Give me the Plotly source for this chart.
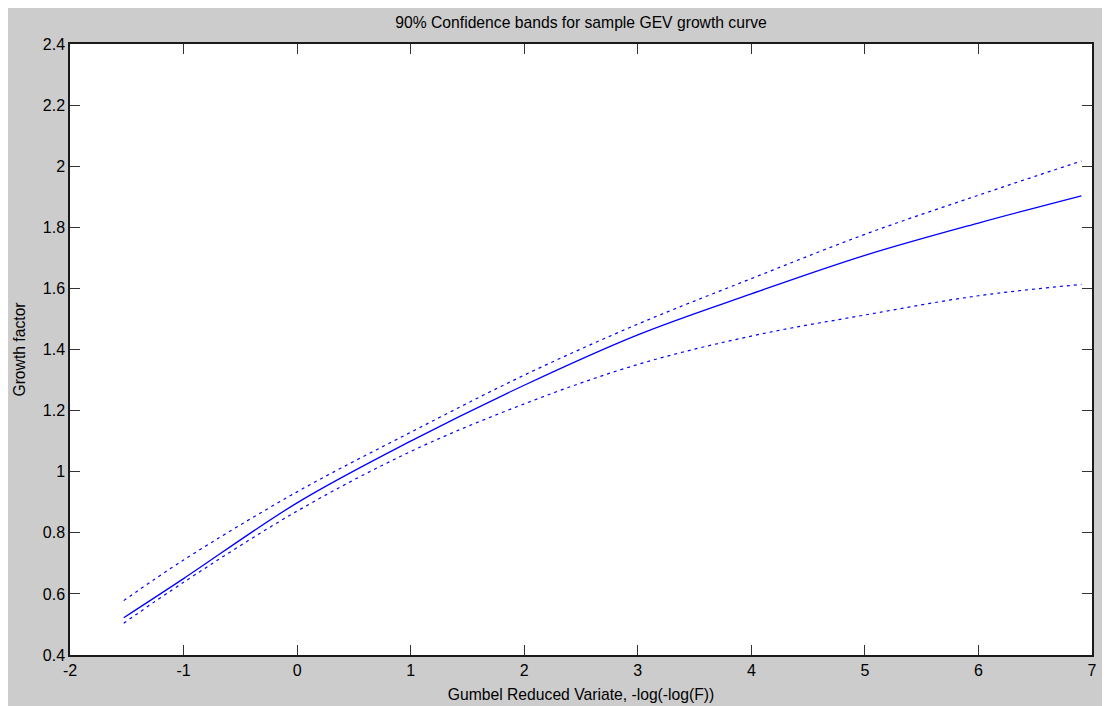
import plotly.graph_objects as go

# Gumbel reduced variate (F = 0.01 ... 0.999)
x_vals = [-1.527, -1.0, 0.0, 1.0, 2.0, 3.0, 4.0, 5.0, 6.0, 6.907]
growth = [0.522, 0.650, 0.898, 1.100, 1.283, 1.448, 1.582, 1.708, 1.814, 1.903]
upper = [0.578, 0.711, 0.934, 1.129, 1.316, 1.483, 1.632, 1.777, 1.905, 2.017]
lower = [0.504, 0.638, 0.871, 1.066, 1.222, 1.351, 1.444, 1.513, 1.576, 1.613]

x_ticks = [-2, -1, 0, 1, 2, 3, 4, 5, 6, 7]
x_ticktext = ["-2", "-1", "0", "1", "2", "3", "4", "5", "6", "7"]
y_ticks = [0.4, 0.6, 0.8, 1.0, 1.2, 1.4, 1.6, 1.8, 2.0, 2.2, 2.4]
y_ticktext = ["0.4", "0.6", "0.8", "1", "1.2", "1.4", "1.6", "1.8", "2", "2.2", "2.4"]

title_text = "90% Confidence bands for sample GEV growth curve"
x_title = "Gumbel Reduced Variate, -log(-log(F))"
y_title = "Growth factor"

FONT = "Liberation Sans, Arial, sans-serif"
BLUE = "#0000ff"

fig = go.Figure()
fig.add_trace(go.Scatter(x=x_vals, y=upper, mode="lines", line=dict(color=BLUE, width=1.2, dash="3px,4px", shape="spline"), showlegend=False))
fig.add_trace(go.Scatter(x=x_vals, y=growth, mode="lines", line=dict(color=BLUE, width=1.3, shape="spline"), showlegend=False))
fig.add_trace(go.Scatter(x=x_vals, y=lower, mode="lines", line=dict(color=BLUE, width=1.2, dash="3px,4px", shape="spline"), showlegend=False))

axis_common = dict(
    showgrid=False, zeroline=False, showline=True, linecolor="#1a1a1a", linewidth=1.5,
    mirror="ticks", ticks="inside", ticklen=10, tickwidth=1.2, tickcolor="#333333",
    tickfont=dict(family=FONT, size=16, color="#000000"),
)

# the page body adds an 8 px margin; the figure is sized so the axes land where the original's do
W, H = 1102, 698
fig.update_layout(
    width=W, height=H,
    margin=dict(l=62, r=18, t=36, b=51, autoexpand=False),
    paper_bgcolor="#cccccc", plot_bgcolor="#ffffff",
    title=dict(text=title_text, x=0.5, xref="paper", xanchor="center",
               y=1 - 15 / H, yref="container", yanchor="middle",
               font=dict(family=FONT, size=15.7, color="#000000")),
    xaxis=dict(range=[-2, 7], tickmode="array", tickvals=x_ticks, ticktext=x_ticktext,
               title=dict(text=x_title, standoff=11, font=dict(family=FONT, size=15.7, color="#000000")),
               automargin=False, **axis_common),
    yaxis=dict(range=[0.4, 2.4], tickmode="array", tickvals=y_ticks, ticktext=y_ticktext,
               title=dict(text=y_title, standoff=13, font=dict(family=FONT, size=15.7, color="#000000")),
               automargin=False, **axis_common),
)

fig.write_html("out.html")
